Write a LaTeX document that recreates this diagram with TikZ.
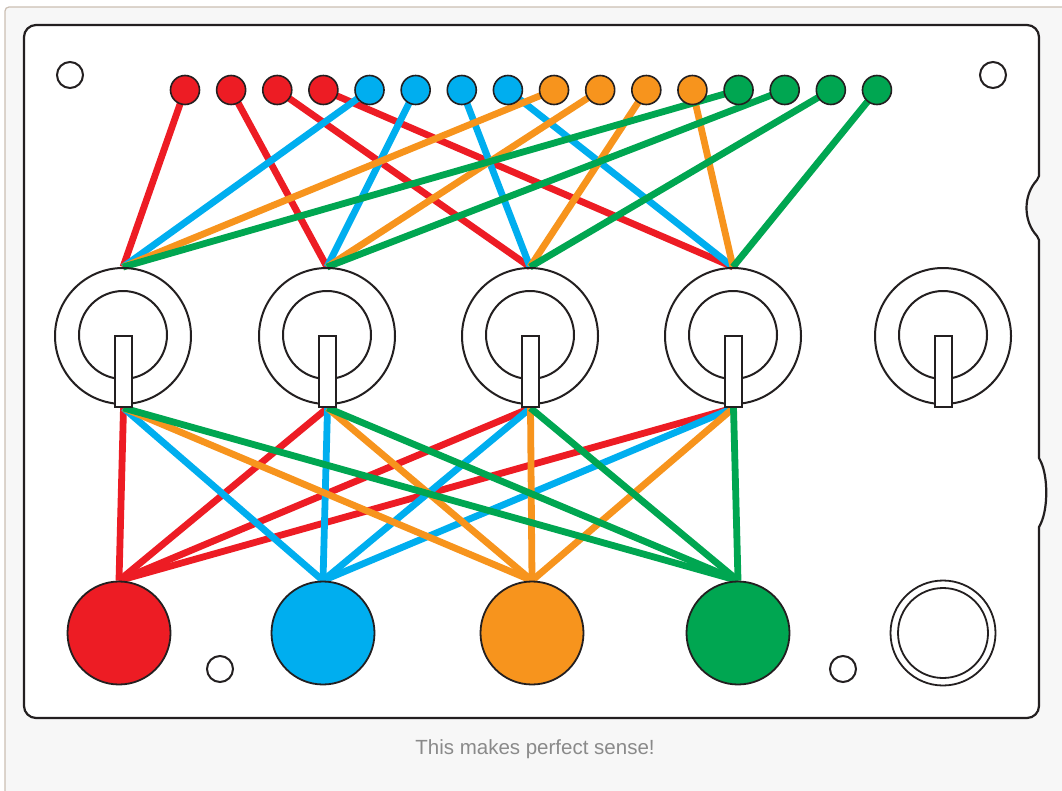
\documentclass[tikz,border=0pt]{standalone}
\usepackage{fontspec}
\setmainfont{Liberation Sans}
\definecolor{cred}{HTML}{ED1C24}
\definecolor{cblue}{HTML}{00AEEF}
\definecolor{corange}{HTML}{F7941D}
\definecolor{cgreen}{HTML}{00A651}
\definecolor{ink}{HTML}{231F20}
\definecolor{bgc}{HTML}{F7F7F7}
\definecolor{framec}{HTML}{CBBFB3}
\definecolor{captc}{HTML}{8A8A8A}
\pgfdeclarelayer{panel}
\pgfdeclarelayer{wires}
\pgfsetlayers{panel,wires,main}
\begin{document}
\begin{tikzpicture}[x=1pt,y=-1pt,
  dot/.style={circle, draw=ink, line width=1.6pt, minimum size=29pt, inner sep=0pt},
  hole/.style={circle, draw=ink, line width=2pt, minimum size=26pt, inner sep=0pt},
  ring/.style={circle, draw=ink, line width=2pt, inner sep=0pt},
  shaft/.style={rectangle, draw=ink, fill=white, line width=2pt, minimum width=17pt, minimum height=71pt, inner sep=0pt},
  button/.style={circle, draw=ink, line width=1.8pt, minimum size=103pt, inner sep=0pt},
  wire/.style={line width=6.8pt},
  panelline/.style={draw=ink, line width=2.2pt, fill=white},
  caption/.style={text=captc, font=\fontsize{20.5}{24}\selectfont, inner sep=0pt}
]
\useasboundingbox (0,0) rectangle (1062,790);

% ---- nodes ----
\foreach \i/\c in {1/cred,2/cred,3/cred,4/cred,5/cblue,6/cblue,7/cblue,8/cblue,
                   9/corange,10/corange,11/corange,12/corange,13/cgreen,14/cgreen,15/cgreen,16/cgreen}
  \node[dot, fill=\c] (d\i) at ({185+46.13*(\i-1)},90) {};

\node[hole] (h1) at (70,75) {};
\node[hole] (h2) at (993,75) {};
\node[hole] (h3) at (220,669) {};
\node[hole] (h4) at (843,669) {};

\foreach \k/\x in {1/123,2/327,3/530,4/733,5/943}{
  \node[ring, minimum size=136pt] (k\k) at (\x,336) {};
  \node[ring, minimum size=88pt] (ki\k) at (\x,335) {};
  \node[shaft] (s\k) at (\x+0.5,371.5) {};
}

\node[button, fill=cred] (c1) at (119,633) {};
\node[button, fill=cblue] (c2) at (323,633) {};
\node[button, fill=corange] (c3) at (532,633) {};
\node[button, fill=cgreen] (c4) at (738,633) {};
\node[button, minimum size=105pt] (c5) at (943,633) {};
\node[button, minimum size=90pt] (c5i) at (943,633) {};

\node[caption] (cap) at (535,749) {This makes perfect sense!};

% ---- panel ----
\begin{pgfonlayer}{panel}
  \fill[white] (0,0) rectangle (1062,790);
  \draw[framec, fill=bgc, line width=1.2pt, rounded corners=4pt] (5,7) rectangle (1080,810);
  \path[panelline] (24,37) .. controls (24,30.4) and (29.4,25) .. (36,25)
    -- (1027,25) .. controls (1033.6,25) and (1039,30.4) .. (1039,37)
    -- (1039,176) -- (1037,180) .. controls (1023,195) and (1023,221) .. (1037,236) -- (1039,240)
    -- (1039,458) -- (1041,462) .. controls (1048,477) and (1048,508) .. (1041,523) -- (1039,527)
    -- (1039,706) .. controls (1039,712.6) and (1033.6,718) .. (1027,718)
    -- (36,718) .. controls (29.4,718) and (24,712.6) .. (24,706) -- cycle;
\end{pgfonlayer}

% ---- wires ----
\begin{pgfonlayer}{wires}
  \foreach \d/\k/\c in {1/1/cred,2/2/cred,3/3/cred,4/4/cred,
                        5/1/cblue,6/2/cblue,7/3/cblue,8/4/cblue,
                        9/1/corange,10/2/corange,11/3/corange,12/4/corange,
                        13/1/cgreen,14/2/cgreen,15/3/cgreen,16/4/cgreen}
    \draw[wire, \c] (d\d.center) -- (k\k.north);
  \foreach \b/\c in {1/cred,2/cblue,3/corange,4/cgreen}
    \foreach \k in {1,2,3,4}
      \draw[wire, \c] (s\k.south) -- (c\b.north);
\end{pgfonlayer}
\end{tikzpicture}
\end{document}
